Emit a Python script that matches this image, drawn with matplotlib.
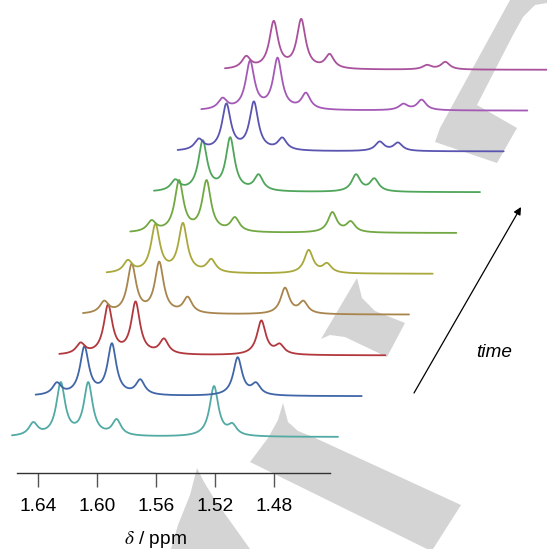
import matplotlib
matplotlib.use("Agg")
import matplotlib.pyplot as plt
import numpy as np
from matplotlib.patches import Polygon

plt.rcParams['font.family'] = ['Liberation Sans', 'DejaVu Sans']
plt.rcParams['mathtext.fontset'] = 'stix'

# peak positions of the front spectrum (ppm)
quartet_ppm = [1.6430, 1.6244, 1.6058, 1.5866]
doublet_ppm = [1.5207, 1.5083]

# observed peak heights, front (earliest) to back (latest)
quartet_heights = [
    [15, 55, 55, 18],
    [14, 50, 53, 17],
    [13, 51, 54, 17],
    [14, 51, 53, 18],
    [14, 50, 51, 15],
    [13, 53, 53, 16],
    [13, 52, 55, 18],
    [13, 48, 50, 14],
    [13, 50, 53, 18],
    [14, 49, 51, 16],
]
doublet_heights = [
    [51, 14],
    [39, 14],
    [35, 12],
    [27, 14],
    [24, 11],
    [21, 12],
    [18, 14],
    [10, 9],
    [7, 11],
    [5, 8],
]
colors = ['#52aaa4', '#4066a8', '#b2383e', '#a8854c', '#a9a83c',
          '#71a842', '#4fa559', '#5a55b1', '#a459b6', '#a9519c']

tick_vals = [1.64, 1.60, 1.56, 1.52, 1.48]
tick_labels = ['1.64', '1.60', '1.56', '1.52', '1.48']

ppm_start, ppm_end = 1.6574, 1.4368
gamma = 0.0036
shift_ppm = 0.01601
shift_y = 40.8

W, H = 547, 549
fig = plt.figure(figsize=(W / 100, H / 100), dpi=100)
ax = fig.add_axes([0, 0, 1, 1])
ax.set_xlim(1.64 + 37.7 / 1478, 1.64 - (W - 37.7) / 1478)
ax.set_ylim(437 - H, 437)
ax.axis('off')


def px(x, y):
    return 1.64 - (x - 37.7) / 1478, 437 - y


# light grey watermark strokes (figure pixel coords)
marks = [
    [(357, 278), (362, 298), (375, 311), (405, 323), (387, 357),
     (345, 337), (330, 335), (321, 339)],
    [(283, 403), (288, 422), (298, 431), (313, 437), (461, 505),
     (433, 549), (427, 549), (250, 462), (268, 438), (278, 420)],
    [(197, 468), (190, 495), (178, 525), (171, 549), (250, 549),
     (215, 500), (204, 482)],
    [(510, 0), (547, 0), (547, 3), (535, 5), (523, 17), (513, 35),
     (477, 105), (517, 128), (497, 163), (435, 142), (440, 128)],
]
for m in marks:
    pts = [(x / W, 1 - y / H) for x, y in m]
    ax.add_patch(Polygon(pts, closed=True, facecolor='#d4d4d4',
                         edgecolor='none', transform=fig.transFigure, zorder=0))


def lor(x, x0):
    return 1.0 / (1.0 + ((x - x0) / gamma) ** 2)


pos = np.array(quartet_ppm + doublet_ppm)
M = lor(pos[:, None], pos[None, :])
x = np.linspace(ppm_start, ppm_end, 1500)
for i in range(len(colors)):
    h = np.array(quartet_heights[i] + doublet_heights[i], dtype=float)
    amps = np.linalg.solve(M, h)
    y = sum(a * lor(x, p) for a, p in zip(amps, pos))
    ax.plot(x - i * shift_ppm, y + i * shift_y, color=colors[i], lw=1.3,
            solid_capstyle='round', zorder=2 + i)

# time arrow
ax.annotate('', xy=px(521, 207), xytext=px(414, 393),
            arrowprops=dict(arrowstyle='-|>', color='black', lw=0.9,
                            mutation_scale=11, shrinkA=0, shrinkB=0))
ax.text(*px(494, 357), 'time', style='italic', fontsize=13.7,
        ha='center', va='baseline')

# chemical shift axis
ax2 = fig.add_axes([17 / W, (H - 473) / H, (330 - 17) / W, 0.02])
ax2.set_xlim(1.64 + (37.7 - 17) / 1478, 1.64 - (330 - 37.7) / 1478)
ax2.patch.set_visible(False)
for s in ['top', 'left', 'right']:
    ax2.spines[s].set_visible(False)
ax2.spines['bottom'].set_color('#333333')
ax2.spines['bottom'].set_linewidth(1.0)
ax2.set_yticks([])
ax2.set_xticks(tick_vals)
ax2.set_xticklabels(tick_labels, fontsize=13.8)
ax2.tick_params(axis='x', direction='out', length=10, width=1.0,
                color='#555555', pad=8)
ax.text(*px(155, 543.5), r'$\delta$ / ppm', fontsize=13.8,
        ha='center', va='baseline')

fig.savefig('out.png', dpi=100, facecolor='white')
